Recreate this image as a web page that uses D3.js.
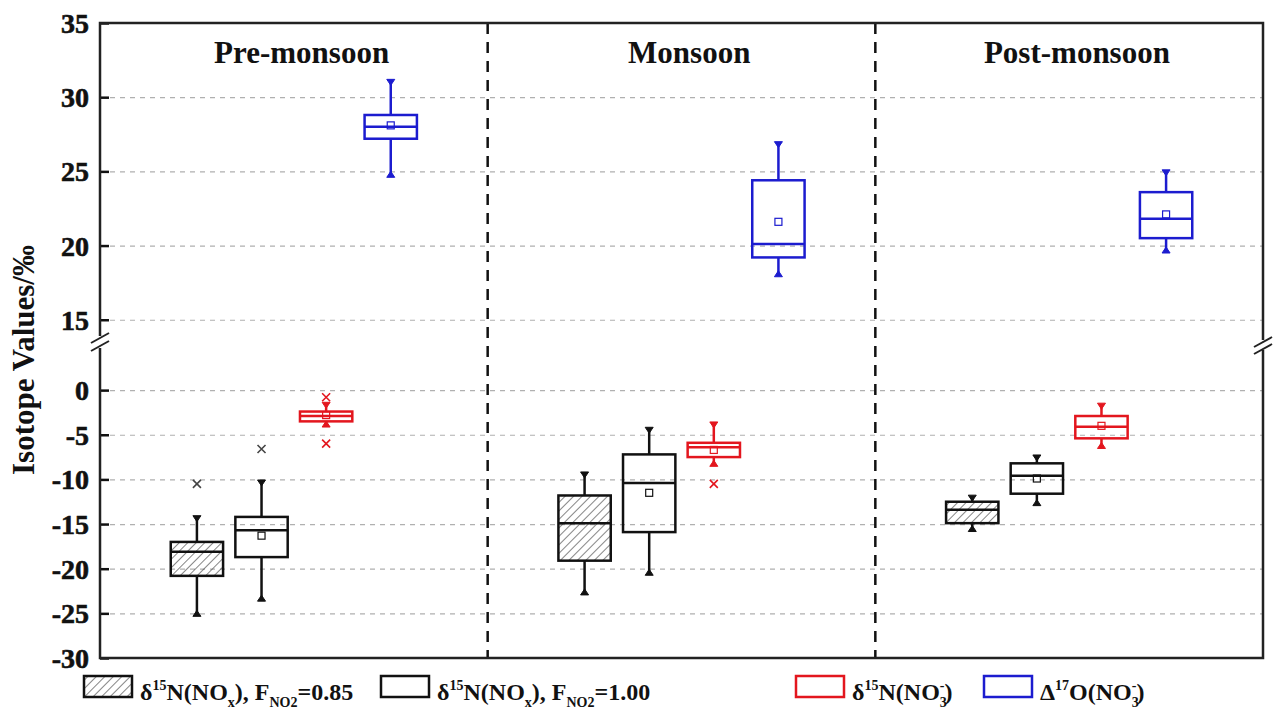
<!DOCTYPE html>
<html>
<head>
<meta charset="utf-8">
<script src="https://cdn.jsdelivr.net/npm/d3@7"></script>
<style>
  body { margin: 0; background: #fff; }
  svg text { font-family: "Liberation Serif", "Times New Roman", serif; font-weight: bold; fill: #111; }
</style>
</head>
<body>
<div class="container"></div>
<script>
// seasons (panels) along x
const seasons = ["Pre-monsoon", "Monsoon", "Post-monsoon"];

// box stats per season: whisker low, q1, median, q3, whisker high, mean, outliers
const noxF085 = [
  { lo: -25.0, q1: -20.8, med: -18.1, q3: -17.0, hi: -14.4, mean: null, out: [-10.5] },
  { lo: -22.6, q1: -19.1, med: -14.9, q3: -11.8, hi: -9.5, mean: null, out: [] },
  { lo: -15.5, q1: -14.9, med: -13.4, q3: -12.5, hi: -12.1, mean: null, out: [] }
];
const noxF100 = [
  { lo: -23.3, q1: -18.7, med: -15.7, q3: -14.2, hi: -10.4, mean: -16.3, out: [-6.6] },
  { lo: -20.4, q1: -15.9, med: -10.4, q3: -7.2, hi: -4.5, mean: -11.5, out: [] },
  { lo: -12.6, q1: -11.6, med: -9.6, q3: -8.2, hi: -7.6, mean: -9.9, out: [] }
];
const no3N15 = [
  { lo: -3.8, q1: -3.5, med: -2.9, q3: -2.4, hi: -1.7, mean: -2.8, out: [-0.8, -6.0] },
  { lo: -8.2, q1: -7.5, med: -6.4, q3: -5.9, hi: -3.9, mean: -6.7, out: [-10.5] },
  { lo: -6.2, q1: -5.4, med: -4.1, q3: -2.9, hi: -1.8, mean: -4.0, out: [] }
];
const no3O17 = [
  { lo: 24.8, q1: 27.2, med: 28.0, q3: 28.8, hi: 31.0, mean: 28.1, out: [] },
  { lo: 18.1, q1: 19.2, med: 20.1, q3: 24.4, hi: 26.8, mean: 21.6, out: [] },
  { lo: 19.7, q1: 20.5, med: 21.8, q3: 23.6, hi: 24.9, mean: 22.1, out: [] }
];

// tick labels for the two broken segments
const upperTicks = [15, 20, 25, 30, 35];
const lowerTicks = [0, -5, -10, -15, -20, -25, -30];

const series = [
  { data: noxF085, color: "#111", hatch: true },
  { data: noxF100, color: "#111", hatch: false },
  { data: no3N15, color: "#e3161e", hatch: false },
  { data: no3O17, color: "#1c1ccf", hatch: false }
];

const width = 1275, height = 713;
const mLeft = 100, mRight = 1263, mTop = 23, mBottom = 658;

const svg = d3.select(".container").append("svg")
  .attr("width", width).attr("height", height);

// hatch pattern
const defs = svg.append("defs");
const pat = defs.append("pattern")
  .attr("id", "hatch").attr("patternUnits", "userSpaceOnUse")
  .attr("width", 6).attr("height", 6)
  .attr("patternTransform", "rotate(45)");
pat.append("line").attr("x1", 0).attr("y1", 0).attr("x2", 0).attr("y2", 6)
  .attr("stroke", "#444").attr("stroke-width", 1.3);

// scales: linear x over the 3 panels, broken y
const x = d3.scaleLinear().domain([0, 3]).range([mLeft, mRight]);
const breakY = 342;
const yTop = d3.scaleLinear().domain([13.5, 35]).range([breakY, mTop]);
const yBot = d3.scaleLinear().domain([-30, 5.5]).range([mBottom, breakY - 1]);
const y = v => v >= 10 ? yTop(v) : yBot(v);

// gridlines
const grid = svg.append("g").attr("class", "grid");
grid.append("g").attr("transform", `translate(${mLeft},0)`)
  .call(d3.axisLeft(yTop).tickValues(upperTicks.filter(t => t < 35)).tickSize(-(mRight - mLeft)).tickFormat(""));
grid.append("g").attr("transform", `translate(${mLeft},0)`)
  .call(d3.axisLeft(yBot).tickValues(lowerTicks.filter(t => t > -30)).tickSize(-(mRight - mLeft)).tickFormat(""));
grid.selectAll(".domain").remove();
grid.selectAll("line").attr("stroke", "#b0b0b0").attr("stroke-width", 1.2).attr("stroke-dasharray", "5,5");

// panel dividers
svg.append("g").selectAll("line").data([1, 2]).join("line")
  .attr("x1", d => x(d)).attr("x2", d => x(d))
  .attr("y1", mTop).attr("y2", mBottom)
  .attr("stroke", "#111").attr("stroke-width", 2.5).attr("stroke-dasharray", "11,8");

// y axes with inward ticks
const axU = svg.append("g").attr("transform", `translate(${mLeft},0)`)
  .call(d3.axisLeft(yTop).tickValues(upperTicks).tickFormat(d => String(d)).tickSizeInner(-9).tickSizeOuter(0).tickPadding(11));
const axL = svg.append("g").attr("transform", `translate(${mLeft},0)`)
  .call(d3.axisLeft(yBot).tickValues(lowerTicks).tickFormat(d => String(d)).tickSizeInner(-9).tickSizeOuter(0).tickPadding(11));
[axU, axL].forEach(a => {
  a.select(".domain").remove();
  a.selectAll(".tick line").attr("stroke", "#111").attr("stroke-width", 2.5);
  a.selectAll(".tick text")
    .style("font-family", "'Liberation Serif', serif")
    .style("font-size", "28px")
    .style("font-weight", "700")
    .style("fill", "#111")
    .style("stroke", "#111").style("stroke-width", 0.6)
    .attr("dy", "0.34em");
});

// frame with axis breaks
const frame = svg.append("g").attr("stroke", "#222").attr("stroke-width", 2.5).attr("fill", "none");
frame.append("path").attr("d", `M${mLeft},${breakY - 6}V${mTop}H${mRight}V${breakY - 2}`);
frame.append("path").attr("d", `M${mLeft},${breakY + 6}V${mBottom}H${mRight}V${breakY + 8}`);
[[mLeft, breakY - 4], [mLeft, breakY + 4], [mRight, breakY], [mRight, breakY + 7]].forEach(([bx, by]) => {
  frame.append("line").attr("x1", bx - 9).attr("y1", by + 5).attr("x2", bx + 9).attr("y2", by - 5)
    .attr("stroke-width", 2);
});

// boxes
const boxW = x(0.135) - x(0);
const boxes = svg.append("g");
series.forEach((s, i) => {
  s.data.forEach((d, g) => {
    const cx = x(g + 0.25 + i / 6);
    const grp = boxes.append("g").attr("stroke", s.color).attr("stroke-width", 2.5);
    // whiskers
    grp.append("line").attr("x1", cx).attr("x2", cx).attr("y1", y(d.hi)).attr("y2", y(d.q3));
    grp.append("line").attr("x1", cx).attr("x2", cx).attr("y1", y(d.q1)).attr("y2", y(d.lo));
    // whisker end markers
    grp.append("path").attr("stroke-width", 1)
      .attr("d", `M${cx - 4},${y(d.hi) - 3}L${cx + 4},${y(d.hi) - 3}L${cx},${y(d.hi) + 3}Z`)
      .attr("fill", s.color);
    grp.append("path").attr("stroke-width", 1)
      .attr("d", `M${cx - 4},${y(d.lo) + 3}L${cx + 4},${y(d.lo) + 3}L${cx},${y(d.lo) - 3}Z`)
      .attr("fill", s.color);
    // box
    grp.append("rect")
      .attr("x", cx - boxW / 2).attr("width", boxW)
      .attr("y", y(d.q3)).attr("height", y(d.q1) - y(d.q3))
      .attr("fill", s.hatch ? "url(#hatch)" : "none");
    grp.append("line").attr("x1", cx - boxW / 2).attr("x2", cx + boxW / 2)
      .attr("y1", y(d.med)).attr("y2", y(d.med));
    // mean
    if (d.mean !== null) {
      grp.append("rect").attr("stroke-width", 1.2).attr("fill", "none")
        .attr("x", cx - 3.5).attr("y", y(d.mean) - 3.5).attr("width", 7).attr("height", 7);
    }
    // outliers
    d.out.forEach(o => {
      grp.append("path").attr("stroke-width", 1.6)
        .attr("d", `M${cx - 4},${y(o) - 4}L${cx + 4},${y(o) + 4}M${cx - 4},${y(o) + 4}L${cx + 4},${y(o) - 4}`)
        .attr("stroke", s.color === "#111" ? "#444" : s.color);
    });
  });
});

// panel titles
svg.append("g").selectAll("text").data(seasons).join("text")
  .attr("x", (d, i) => x(i + 0.52)).attr("y", 63)
  .attr("text-anchor", "middle").style("font-size", "31px")
  .text(d => d);

// y label
svg.append("text")
  .attr("transform", "translate(34,360) rotate(-90)")
  .attr("text-anchor", "middle").style("font-size", "31px")
  .text("Isotope Values/‰");

// legend: parts are [text, baseline shift, dx]
const legendItems = [
  { x0: 84, color: "#111", hatch: true,
    parts: [["δ", 0], ["15", -10], ["N(NO", 0], ["x", 7], ["), F", 0], ["NO2", 7], ["=0.85", 0]] },
  { x0: 381, color: "#111", hatch: false,
    parts: [["δ", 0], ["15", -10], ["N(NO", 0], ["x", 7], ["), F", 0], ["NO2", 7], ["=1.00", 0]] },
  { x0: 796, color: "#e3161e", hatch: false,
    parts: [["δ", 0], ["15", -10], ["N(NO", 0], ["3", 7], ["-", -10, -7], [")", 0]] },
  { x0: 984, color: "#1c1ccf", hatch: false,
    parts: [["Δ", 0], ["17", -10], ["O(NO", 0], ["3", 7], ["-", -10, -7], [")", 0]] }
];
const legend = svg.append("g").attr("id", "legend");
legendItems.forEach(it => {
  legend.append("rect").attr("x", it.x0).attr("y", 676).attr("width", 48).attr("height", 21)
    .attr("fill", it.hatch ? "url(#hatch)" : "none")
    .attr("stroke", it.color).attr("stroke-width", 2.5);
  const t = legend.append("text").attr("x", it.x0 + 56).attr("y", 700).style("font-size", "24px");
  let off = 0;
  it.parts.forEach(([txt, shift, dx]) => {
    const sp = t.append("tspan").text(txt).attr("dy", shift - off);
    if (dx) sp.attr("dx", dx);
    if (shift !== 0) sp.style("font-size", "14px");
    off = shift;
  });
});
</script>
</body>
</html>
